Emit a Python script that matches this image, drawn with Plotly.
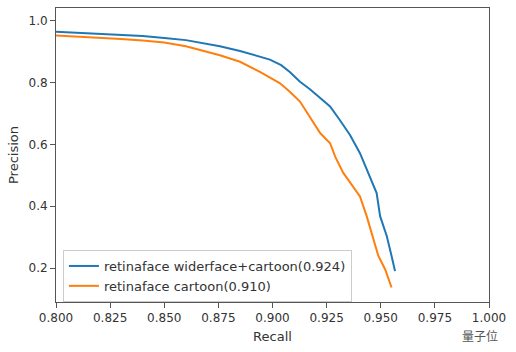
import plotly.graph_objects as go

blue_recall = [0.800, 0.810, 0.820, 0.830, 0.840, 0.850, 0.860, 0.8757, 0.885, 0.8988, 0.904, 0.908,
               0.9127, 0.9173, 0.922, 0.9266, 0.931, 0.9358, 0.9404, 0.9435, 0.9465, 0.9481, 0.9497,
               0.9528, 0.955, 0.9566]
blue_precision = [0.965, 0.962, 0.959, 0.955, 0.951, 0.945, 0.938, 0.918, 0.903, 0.875, 0.857, 0.835,
                  0.803, 0.779, 0.750, 0.723, 0.680, 0.631, 0.572, 0.518, 0.470, 0.443, 0.368,
                  0.303, 0.239, 0.190]

orange_recall = [0.800, 0.810, 0.820, 0.830, 0.840, 0.850, 0.860, 0.8757, 0.885, 0.8942, 0.9035, 0.908,
                 0.9127, 0.9173, 0.922, 0.9266, 0.929, 0.9327, 0.9373, 0.9404, 0.9435, 0.9458, 0.9489,
                 0.952, 0.955]
orange_precision = [0.953, 0.950, 0.946, 0.942, 0.937, 0.930, 0.918, 0.889, 0.868, 0.835, 0.798, 0.771,
                    0.739, 0.690, 0.637, 0.604, 0.560, 0.508, 0.464, 0.432, 0.368, 0.314, 0.239,
                    0.196, 0.137]

series_names = ["retinaface widerface+cartoon(0.924)", "retinaface cartoon(0.910)"]
x_ticks = [0.800, 0.825, 0.850, 0.875, 0.900, 0.925, 0.950, 0.975, 1.000]
y_ticks = [0.2, 0.4, 0.6, 0.8, 1.0]

font = "DejaVu Sans"
fig = go.Figure()
fig.add_trace(go.Scatter(x=blue_recall, y=blue_precision, mode="lines", name=series_names[0],
                         line=dict(color="#1f77b4", width=2)))
fig.add_trace(go.Scatter(x=orange_recall, y=orange_precision, mode="lines", name=series_names[1],
                         line=dict(color="#ff7f0e", width=2)))

axis_common = dict(showgrid=False, zeroline=False, showline=True, linecolor="#555", linewidth=1,
                   mirror=True, ticks="outside", ticklen=5, tickcolor="#555",
                   tickfont=dict(family=font, size=12, color="#333"))
fig.update_xaxes(range=[0.8, 1.0], tickvals=x_ticks, tickformat=".3f",
                 title=dict(text="Recall", font=dict(family=font, size=13, color="#333"), standoff=7),
                 **axis_common)
fig.update_yaxes(range=[0.09, 1.042], tickvals=y_ticks, tickformat=".1f",
                 title=dict(text="Precision", font=dict(family=font, size=13, color="#333"), standoff=6),
                 **axis_common)

fig.update_layout(
    width=516, height=352,
    margin=dict(l=56, r=27, t=8, b=50),
    paper_bgcolor="white", plot_bgcolor="white",
    font=dict(family=font, size=12, color="#333"),
    legend=dict(x=0.016, y=0.0, xanchor="left", yanchor="bottom",
                bgcolor="rgba(255,255,255,0.8)", bordercolor="#ccc", borderwidth=1,
                font=dict(family=font, size=13, color="#333"), tracegroupgap=0),
    annotations=[dict(text="量子位", x=1.0254, y=-0.115, xref="paper", yref="paper",
                      xanchor="right", yanchor="middle", showarrow=False,
                      font=dict(family="Noto Sans CJK SC", size=12, color="#555"))]
)

fig.write_html("out.html")
